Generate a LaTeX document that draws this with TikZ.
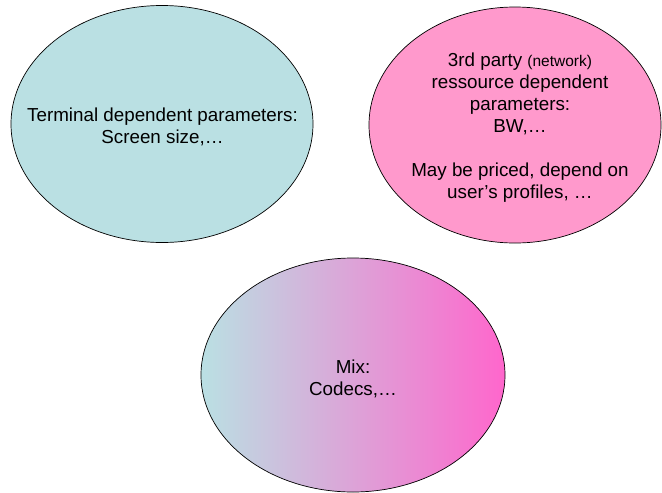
\documentclass[tikz,border=0pt]{standalone}
\usepackage{fontspec}
\setmainfont{Liberation Sans}
\usetikzlibrary{shapes.geometric}
\definecolor{termfill}{RGB}{186,224,227}
\definecolor{netfill}{RGB}{255,153,204}
\definecolor{mixright}{RGB}{255,102,204}
\tikzset{
  bubble/.style={ellipse, draw=black, line width=0.7pt, inner sep=0pt},
  label text/.style={align=center, font=\fontsize{18.8}{22}\selectfont, inner sep=0pt}
}
\begin{document}
\begin{tikzpicture}[x=1pt, y=-1pt]
  \useasboundingbox (0,0) rectangle (662,493);
  % terminal-side parameters
  \node[bubble, fill=termfill, minimum width=302pt, minimum height=237pt] (term) at (162,124) {};
  % network-side parameters
  \node[bubble, fill=netfill, minimum width=292pt, minimum height=236pt] (net) at (515,125) {};
  % mixed parameters, shaded from one colour to the other
  \node[bubble, left color=termfill, right color=mixright, minimum width=304pt, minimum height=234pt] (mix) at (353,375) {};

  % multi-line labels, anchored at the baseline of their last line
  \node[label text, anchor=base] (termtxt) at (162.5,143.5)
    {Terminal dependent parameters:\\Screen size,\dots};
  \node[label text, anchor=base] (nettxt) at (520,198)
    {3rd party {\fontsize{15.5}{22}\selectfont(network)}\\ressource dependent\\parameters:\\BW,\dots\\[22pt]May be priced, depend on\\user’s profiles, \dots};
  \node[label text, anchor=base] (mixtxt) at (353,395)
    {Mix:\\Codecs,\dots};
\end{tikzpicture}
\end{document}
